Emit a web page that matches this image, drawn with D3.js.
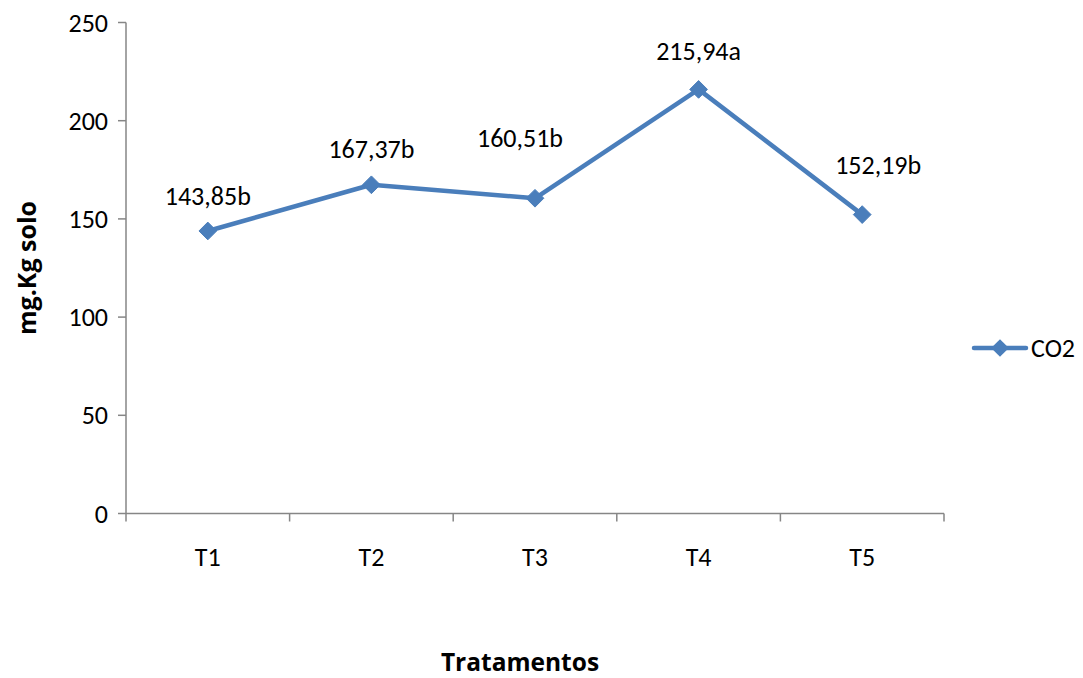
<!DOCTYPE html>
<html><head><meta charset="utf-8">
<script src="https://cdn.jsdelivr.net/npm/d3@7"></script>
<style>body{margin:0;background:#fff}svg{display:block}text{font-family:Carlito,Lato,"Open Sans",sans-serif}.bold{font-family:"Open Sans",sans-serif;font-weight:bold}</style>
</head><body>
<svg id="c" width="1083" height="678"></svg>
<script>
const categories = ["T1","T2","T3","T4","T5"];
const values = [143.85,167.37,160.51,215.94,152.19];
const labels = ["143,85b","167,37b","160,51b","215,94a","152,19b"];
const yTicks = [0,50,100,150,200,250];
const seriesName = "CO2";

// label placement (layout, px relative to point)
const labelDx = [0,0,-15,0,16];
const labelDy = [-35,-36,-60,-38,-50];

const svg = d3.select("#c");
const L=126, R=944, T=22.5, B=513.5;
const color="#4a7ebb";
const FS=26;
const x = d3.scaleBand().domain(categories).range([L,R]);
const y = d3.scaleLinear().domain([0,250]).range([B,T]);

// y axis
const ya = svg.append("g");
ya.append("line").attr("x1",L).attr("x2",L).attr("y1",T).attr("y2",B).attr("stroke","#868686").attr("stroke-width",1.5);
yTicks.forEach(t=>{
  ya.append("line").attr("x1",L-8).attr("x2",L).attr("y1",y(t)).attr("y2",y(t)).attr("stroke","#868686").attr("stroke-width",1.5);
  ya.append("text").attr("x",L-18).attr("y",y(t)).attr("dy","0.35em").attr("text-anchor","end").attr("font-size",FS).attr("fill","#000").text(t);
});
// x axis
const xa = svg.append("g");
xa.append("line").attr("x1",L).attr("x2",R).attr("y1",B).attr("y2",B).attr("stroke","#868686").attr("stroke-width",1.5);
const edges = categories.map(c=>x(c)).concat([R]);
edges.forEach(e=>{
  xa.append("line").attr("x1",e).attr("x2",e).attr("y1",B).attr("y2",B+8).attr("stroke","#868686").attr("stroke-width",1.5);
});
categories.forEach(c=>{
  xa.append("text").attr("x",x(c)+x.bandwidth()/2).attr("y",557).attr("dy","0.35em").attr("text-anchor","middle").attr("font-size",FS).text(c);
});

// line
const pts = categories.map((c,i)=>[x(c)+x.bandwidth()/2, y(values[i])]);
svg.append("path").attr("d",d3.line()(pts)).attr("fill","none").attr("stroke",color).attr("stroke-width",4.5).attr("stroke-linejoin","round").attr("stroke-linecap","round");
const diamond = d3.symbol().type(d3.symbolDiamond2).size(200);
pts.forEach(p=>{
  svg.append("path").attr("d",diamond()).attr("transform",`translate(${p[0]},${p[1]})`).attr("fill",color).attr("stroke",color).attr("stroke-width",1);
});
pts.forEach((p,i)=>{
  svg.append("text").attr("x",p[0]+labelDx[i]).attr("y",p[1]+labelDy[i]).attr("dy","0.35em").attr("text-anchor","middle").attr("font-size",FS).text(labels[i]);
});

// axis titles
svg.append("text").attr("class","bold").attr("transform","translate(27,268) rotate(-90)").attr("dy","0.35em").attr("text-anchor","middle").attr("font-size",25).text("mg.Kg solo");
svg.append("text").attr("class","bold").attr("x",520).attr("y",671).attr("text-anchor","middle").attr("font-size",24.5).text("Tratamentos");

// legend
const lg = svg.append("g");
lg.append("line").attr("x1",974).attr("x2",1026).attr("y1",348).attr("y2",348).attr("stroke",color).attr("stroke-width",4.5).attr("stroke-linecap","round");
lg.append("path").attr("d",diamond()).attr("transform","translate(1000,348)").attr("fill",color);
lg.append("text").attr("x",1031).attr("y",348).attr("dy","0.35em").attr("font-size",FS).text(seriesName);
</script>
</body></html>
